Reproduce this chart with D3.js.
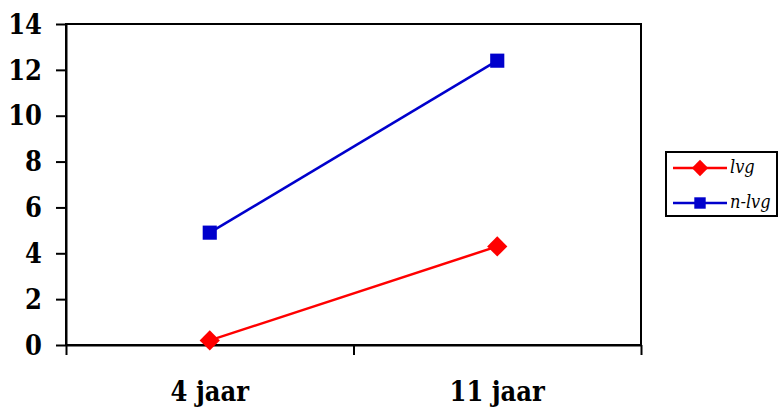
<!DOCTYPE html>
<html>
<head>
<meta charset="utf-8">
<script src="https://cdn.jsdelivr.net/npm/d3@7/dist/d3.min.js"></script>
<style>
  html, body { margin: 0; padding: 0; background: #fff; }
  svg { display: block; }
</style>
</head>
<body>
<svg id="chart" width="778" height="408"></svg>
<script>
// Age groups on the x axis
const categories = ["4 jaar", "11 jaar"];
// Series names and values per age group
const seriesNames = ["lvg", "n-lvg"];
const lvgValues = [0.2, 4.3];
const nlvgValues = [4.9, 12.4];
// Y axis ticks
const yTicks = [0, 2, 4, 6, 8, 10, 12, 14];

const seriesColors = ["#ff0000", "#0000cc"];
const seriesShapes = [d3.symbolDiamond2, d3.symbolSquare];
const series = [
  { name: seriesNames[0], values: lvgValues, color: seriesColors[0], shape: seriesShapes[0] },
  { name: seriesNames[1], values: nlvgValues, color: seriesColors[1], shape: seriesShapes[1] }
];

const serif = "DejaVu Serif Condensed, DejaVu Serif, serif";

const svg = d3.select("#chart");
const plot = { left: 66, right: 641, top: 24, bottom: 345 };

const x = d3.scaleBand().domain(categories).range([plot.left, plot.right]).padding(0);
const xEdges = d3.scaleLinear().domain([0, categories.length]).range([plot.left, plot.right]);
const y = d3.scaleLinear().domain([0, 14]).range([plot.bottom, plot.top]);

// Plot area frame
svg.append("rect")
  .attr("x", plot.left).attr("y", plot.top)
  .attr("width", plot.right - plot.left).attr("height", plot.bottom - plot.top)
  .attr("fill", "none").attr("stroke", "#000").attr("stroke-width", 2);

// Y axis
const yAxis = svg.append("g")
  .attr("transform", `translate(${plot.left},0)`)
  .call(d3.axisLeft(y).tickValues(yTicks).tickSize(10).tickSizeOuter(0).tickPadding(14).tickFormat(d3.format("d")));
yAxis.attr("font-family", serif).attr("font-stretch", "condensed")
  .attr("font-size", 27).attr("font-weight", "bold");
yAxis.select(".domain").attr("stroke-width", 2);
yAxis.selectAll(".tick line").attr("stroke-width", 2);
yAxis.selectAll(".tick text").attr("fill", "#000").attr("dy", "0.34em");

// X axis: ticks at category boundaries
const xAxis = svg.append("g")
  .attr("transform", `translate(0,${plot.bottom})`)
  .call(d3.axisBottom(xEdges).tickValues(d3.range(categories.length + 1)).tickSize(10).tickSizeOuter(0).tickFormat(""));
xAxis.select(".domain").attr("stroke-width", 2);
xAxis.selectAll(".tick line").attr("stroke-width", 2);

// Category labels centred in each band
svg.append("g")
  .attr("font-family", serif).attr("font-stretch", "condensed")
  .attr("font-size", 27).attr("font-weight", "bold")
  .selectAll("text")
  .data(categories)
  .join("text")
  .attr("x", d => x(d) + x.bandwidth() / 2)
  .attr("y", 401)
  .attr("text-anchor", "middle")
  .text(d => d);

// Lines and markers
const line = d3.line()
  .x((d, i) => x(categories[i]) + x.bandwidth() / 2)
  .y(d => y(d));

const sg = svg.append("g").selectAll("g").data(series).join("g");
sg.append("path")
  .attr("d", d => line(d.values))
  .attr("fill", "none").attr("stroke", d => d.color).attr("stroke-width", 2.5);
sg.selectAll("path.marker")
  .data(d => d.values.map((v, i) => ({ v, i, s: d })))
  .join("path")
  .attr("class", "marker")
  .attr("transform", d => `translate(${x(categories[d.i]) + x.bandwidth() / 2},${y(d.v)})`)
  .attr("d", d => d3.symbol().type(d.s.shape).size(d.s.shape === d3.symbolSquare ? 200 : 260)())
  .attr("fill", d => d.s.color);

// Legend
const legend = svg.append("g").attr("font-family", serif).attr("font-stretch", "condensed");
legend.append("rect")
  .attr("x", 666).attr("y", 152).attr("width", 111).attr("height", 64)
  .attr("fill", "#fff").attr("stroke", "#000").attr("stroke-width", 2);
const items = legend.selectAll("g.item").data(series).join("g")
  .attr("class", "item")
  .attr("transform", (d, i) => `translate(0,${168 + i * 35})`);
items.append("line")
  .attr("x1", 673).attr("x2", 727).attr("y1", 0).attr("y2", 0)
  .attr("stroke", d => d.color).attr("stroke-width", 2.5);
items.append("path")
  .attr("transform", "translate(700,0)")
  .attr("d", d => d3.symbol().type(d.shape).size(d.shape === d3.symbolSquare ? 130 : 170)())
  .attr("fill", d => d.color);
items.append("text")
  .attr("x", 730).attr("y", 0).attr("dy", "0.3em")
  .attr("font-style", "italic").attr("font-size", 18)
  .text(d => d.name);
</script>
</body>
</html>
